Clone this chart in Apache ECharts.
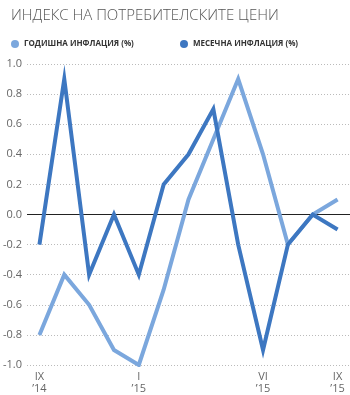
<!DOCTYPE html>
<html>
<head>
<meta charset="utf-8">
<script src="https://cdn.jsdelivr.net/npm/echarts@6/dist/echarts.min.js"></script>
<style>
html,body{margin:0;padding:0;background:#fff;}
#chart{width:350px;height:395px;}
</style>
</head>
<body>
<div id="chart"></div>
<script>
// Months from September 2014 to September 2015
var months = ['IX\n’14','X','XI','XII','I\n’15','II','III','IV','V','VI\n’15','VII','VIII','IX\n’15'];
// Only these month labels are printed under the axis
var shownMonths = [0, 4, 9, 12];
var annualInflation = [-0.8, -0.4, -0.6, -0.9, -1.0, -0.5, 0.1, 0.5, 0.9, 0.4, -0.2, 0.0, 0.1];
var monthlyInflation = [-0.2, 0.9, -0.4, 0.0, -0.4, 0.2, 0.4, 0.7, -0.2, -0.9, -0.2, 0.0, -0.1];
var seriesNames = ['ГОДИШНА ИНФЛАЦИЯ (%)', 'МЕСЕЧНА ИНФЛАЦИЯ (%)'];
var colors = ['#7ba7dd', '#3d77c1'];

var chart = echarts.init(document.getElementById('chart'), null, {renderer: 'canvas'});
var legendText = {fontSize: 8, fontWeight: 'bold', color: '#333', fontFamily: 'Open Sans, sans-serif'};

chart.setOption({
  animation: false,
  title: {
    text: 'ИНДЕКС НА ПОТРЕБИТЕЛСКИТЕ ЦЕНИ',
    left: 6, top: 3,
    textStyle: {fontSize: 15, fontWeight: 300, color: '#555', fontFamily: 'Open Sans, sans-serif'}
  },
  legend: [
    {data: [seriesNames[0]], left: 6, top: 35, icon: 'circle', itemWidth: 8, itemHeight: 8, itemGap: 4, textStyle: legendText},
    {data: [seriesNames[1]], left: 175, top: 35, icon: 'circle', itemWidth: 8, itemHeight: 8, itemGap: 4, textStyle: legendText}
  ],
  grid: {left: 23.5, right: 0, top: 64, bottom: 29},
  xAxis: {
    type: 'category',
    data: months,
    boundaryGap: true,
    axisLine: {show: false},
    axisTick: {show: false},
    axisLabel: {
      interval: 0,
      margin: 6,
      color: '#666',
      fontSize: 11,
      lineHeight: 12,
      fontFamily: 'Open Sans, sans-serif',
      formatter: function (v, i) { return shownMonths.indexOf(i) >= 0 ? v : ''; }
    }
  },
  yAxis: {
    type: 'value',
    min: -1, max: 1, interval: 0.2,
    axisLine: {show: false},
    axisTick: {show: false},
    axisLabel: {
      margin: 5,
      color: '#666',
      fontSize: 11,
      fontFamily: 'Open Sans, sans-serif',
      formatter: function (v) { return v.toFixed(1); }
    },
    splitLine: {lineStyle: {color: '#bbb', type: [1, 2], width: 1}}
  },
  series: [
    {
      name: seriesNames[0], type: 'line', data: annualInflation,
      color: colors[0], symbol: 'none',
      lineStyle: {width: 4, color: colors[0], join: 'miter'},
      z: 2
    },
    {
      name: seriesNames[1], type: 'line', data: monthlyInflation,
      color: colors[1], symbol: 'none',
      lineStyle: {width: 4, color: colors[1], join: 'miter'},
      z: 3,
      markLine: {
        silent: true, symbol: 'none', label: {show: false},
        lineStyle: {color: '#222', type: 'solid', width: 1.2},
        data: [{yAxis: 0}],
        z: 1
      }
    }
  ]
});
</script>
</body>
</html>
